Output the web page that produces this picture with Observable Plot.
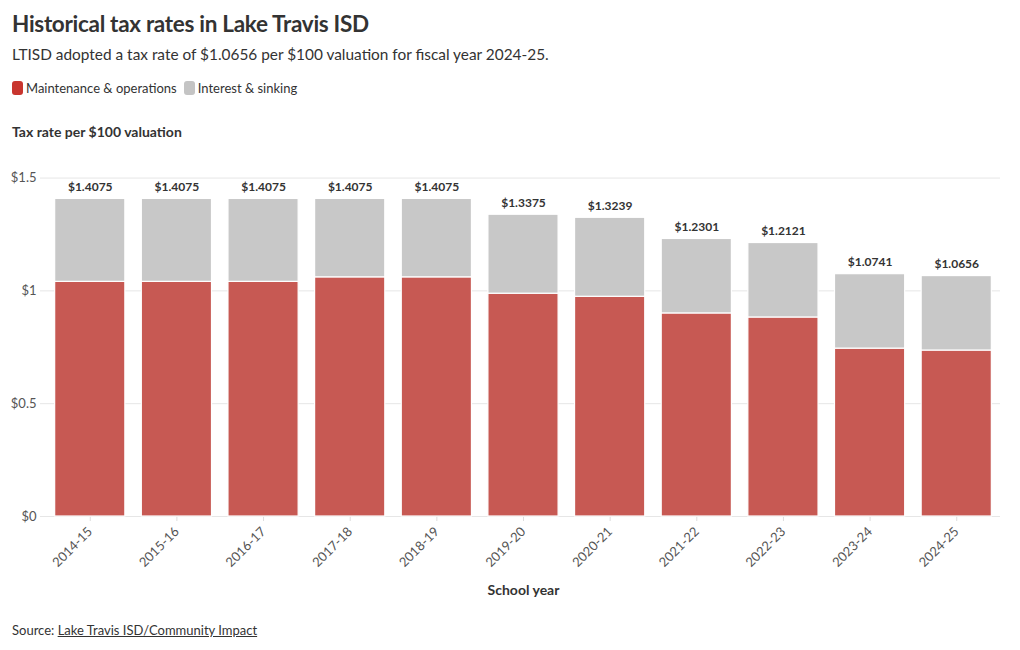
<!DOCTYPE html>
<html>
<head>
<meta charset="utf-8">
<script src="https://cdn.jsdelivr.net/npm/d3@7"></script>
<script src="https://cdn.jsdelivr.net/npm/@observablehq/plot@0.6"></script>
<style>
  html, body { margin: 0; padding: 0; background: #fff; }
  body { width: 1020px; height: 650px; position: relative; font-family: Lato, "Open Sans", sans-serif; color: #333; overflow: hidden; }
  .abs { position: absolute; left: 12px; white-space: nowrap; }
  #title { top: 10px; font-size: 22.5px; font-weight: 700; color: #333; letter-spacing: -0.3px; }
  #subtitle { top: 45px; font-size: 15.4px; color: #333; }
  #legend { top: 80px; font-size: 13px; color: #333; display: flex; align-items: center; }
  #legend .sw { display: inline-block; width: 11px; height: 14px; border-radius: 3px; margin-right: 3px; }
  #legend .item { display: flex; align-items: center; margin-right: 7px; }
  #ytitle { top: 123px; font-size: 14px; font-weight: 700; color: #333; }
  #chart { position: absolute; left: 0; top: 140px; }
  #source { top: 622px; font-size: 13px; color: #333; }
  #source a { color: #333; text-decoration: underline; }
</style>
</head>
<body>
<div id="title" class="abs">Historical tax rates in Lake Travis ISD</div>
<div id="subtitle" class="abs">LTISD adopted a tax rate of $1.0656 per $100 valuation for fiscal year 2024-25.</div>
<div id="legend" class="abs"></div>
<div id="ytitle" class="abs">Tax rate per $100 valuation</div>
<div id="chart"></div>
<div id="source" class="abs">Source: <a href="#">Lake Travis ISD/Community Impact</a></div>
<script>
const years = ["2014-15","2015-16","2016-17","2017-18","2018-19","2019-20","2020-21","2021-22","2022-23","2023-24","2024-25"];
const maintenance = [1.04, 1.04, 1.04, 1.06, 1.06, 0.9875, 0.9739, 0.9001, 0.8821, 0.7441, 0.7356];
const interest = [0.3675, 0.3675, 0.3675, 0.3475, 0.3475, 0.35, 0.35, 0.33, 0.33, 0.33, 0.33];
const totals = [1.4075, 1.4075, 1.4075, 1.4075, 1.4075, 1.3375, 1.3239, 1.2301, 1.2121, 1.0741, 1.0656];
const seriesNames = ["Maintenance & operations", "Interest & sinking"];
const seriesColors = ["#c75953", "#c8c8c8"];
const legendColors = ["#c8352e", "#c4c4c4"];
const yTicks = [0, 0.5, 1, 1.5];

// legend
const leg = document.getElementById("legend");
seriesNames.forEach((n, i) => {
  const it = document.createElement("span");
  it.className = "item";
  it.innerHTML = `<span class="sw" style="background:${legendColors[i]}"></span>${n}`;
  leg.appendChild(it);
});

const rows = [];
years.forEach((y, i) => {
  rows.push({year: y, series: seriesNames[0], value: maintenance[i]});
  rows.push({year: y, series: seriesNames[1], value: interest[i]});
});
const totalRows = years.map((y, i) => ({year: y, total: totals[i]}));

const fmtY = v => v === 0 ? "$0" : "$" + d3.format("~g")(v);

const plot = Plot.plot({
  width: 1020,
  height: 470,
  marginLeft: 46,
  marginRight: 20,
  marginTop: 15,
  marginBottom: 94,
  style: {fontFamily: "Lato, 'Open Sans', sans-serif", fontSize: "12px", color: "#555", background: "transparent"},
  x: {domain: years, paddingInner: 0.19, paddingOuter: 0.1, round: false, label: null},
  y: {domain: [0, 1.6], label: null},
  color: {domain: seriesNames, range: seriesColors},
  marks: [
    Plot.gridY(yTicks, {stroke: "#e6e6e6", strokeOpacity: 1}),
    Plot.ruleX([0], {x: () => null, frameAnchor: "left", stroke: "#e6e6e6"}),
    Plot.axisY(yTicks, {tickFormat: fmtY, tickSize: 6, tickPadding: 4, stroke: "#e6e6e6", fontSize: 13, fill: "#555", label: null}),
    Plot.axisX({tickRotate: -45, tickSize: 5, tickPadding: 8, stroke: "#ddd", fontSize: 13, fill: "#555", label: "School year", labelAnchor: "center", labelOffset: 78, labelArrow: "none"}),
    Plot.barY(rows, {x: "year", y: "value", fill: "series", stroke: "white", strokeWidth: 1.2, order: seriesNames}),
    Plot.text(totalRows, {x: "year", y: "total", text: d => "$" + d.total.toFixed(4), dy: -12, fontWeight: 700, fontSize: 12, fill: "#333"})
  ]
});
document.getElementById("chart").appendChild(plot);
// style x-axis label
plot.querySelectorAll('[aria-label="x-axis label"] text').forEach(t => {
  t.setAttribute("font-weight", "700");
  t.setAttribute("font-size", "14");
  t.setAttribute("fill", "#333");
});
</script>
</body>
</html>
